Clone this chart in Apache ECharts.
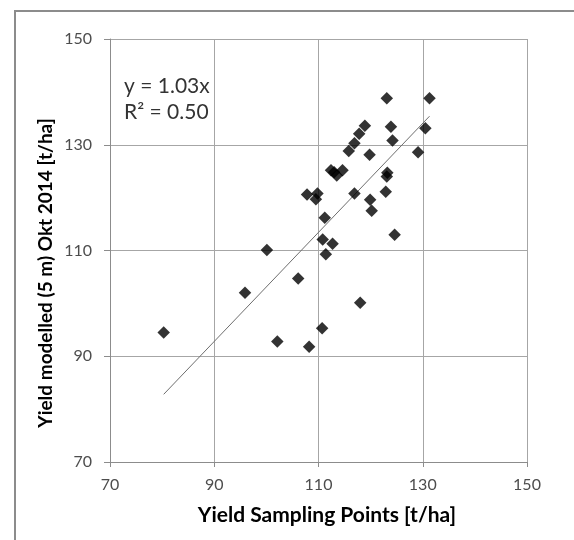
<!DOCTYPE html>
<html>
<head>
<meta charset="utf-8">
<script src="https://cdn.jsdelivr.net/npm/echarts@6/dist/echarts.min.js"></script>
<style>
  html, body { margin: 0; padding: 0; background: #fff; }
  #chart { width: 574px; height: 540px; }
</style>
</head>
<body>
<div id="chart"></div>
<script>
// Yield Sampling Points [t/ha]
const xValues = [80.3, 95.9, 100.1, 102.1, 106.1, 107.8, 108.2, 109.8, 109.5, 110.7,
  110.8, 111.2, 111.4, 112.7, 112.4, 113.0, 113.5, 114.6, 115.8, 116.9,
  116.9, 117.8, 118.9, 118.0, 119.8, 119.9, 120.2, 123.1, 123.9, 124.2,
  123.2, 123.1, 122.9, 124.6, 129.1, 130.5, 131.3];
// Yield modelled (5 m) Okt 2014 [t/ha]
const yValues = [94.5, 102.0, 110.1, 92.8, 104.7, 120.6, 91.8, 120.8, 119.7, 95.3,
  112.1, 116.2, 109.3, 111.3, 125.2, 124.8, 124.2, 125.2, 128.8, 130.3,
  120.8, 132.1, 133.6, 100.1, 128.1, 119.6, 117.5, 138.8, 133.4, 130.8,
  124.7, 124.0, 121.1, 113.0, 128.6, 133.1, 138.8];
// Linear trendline (through origin) endpoints
const trendX = [80.3, 131.3];
const trendY = [82.8, 135.4];
const axisTicks = [70, 90, 110, 130, 150];
const equationText = ['y = 1.03x', 'R² = 0.50'];
const xTitle = 'Yield Sampling Points [t/ha]';
const yTitle = 'Yield modelled (5 m) Okt 2014 [t/ha]';

const points = xValues.map((x, i) => [x, yValues[i]]);
const trend = trendX.map((x, i) => [x, trendY[i]]);

const FONT = 'Lato';
const chart = echarts.init(document.getElementById('chart'), null, { renderer: 'canvas' });
chart.setOption({
  animation: false,
  backgroundColor: '#ffffff',
  grid: { left: 110, right: 47, top: 39, bottom: 78, show: false },
  xAxis: {
    type: 'value',
    min: axisTicks[0], max: axisTicks[axisTicks.length - 1], interval: 20,
    name: xTitle,
    nameLocation: 'middle',
    nameGap: 43,
    nameTextStyle: { fontFamily: FONT, fontSize: 21, fontWeight: 'bold', color: '#000000', padding: [0, 0, 0, 17] },
    axisLine: { show: true, lineStyle: { color: '#8c8c8c', width: 1 } },
    axisTick: { show: true, inside: false, length: 5, lineStyle: { color: '#8c8c8c' } },
    axisLabel: { fontFamily: FONT, fontSize: 16, color: '#4d4d4d', margin: 15 },
    splitLine: { show: true, lineStyle: { color: '#a6a6a6', width: 1 } }
  },
  yAxis: {
    type: 'value',
    min: axisTicks[0], max: axisTicks[axisTicks.length - 1], interval: 20,
    axisLine: { show: true, lineStyle: { color: '#8c8c8c', width: 1 } },
    axisTick: { show: true, inside: false, length: 6, lineStyle: { color: '#8c8c8c' } },
    axisLabel: { fontFamily: FONT, fontSize: 16, color: '#4d4d4d', margin: 18 },
    splitLine: { show: true, lineStyle: { color: '#a6a6a6', width: 1 } }
  },
  series: [
    {
      type: 'line',
      data: trend,
      symbol: 'none',
      silent: true,
      lineStyle: { color: '#6e6e6e', width: 1 },
      z: 2
    },
    {
      type: 'scatter',
      data: points,
      symbol: 'diamond',
      symbolSize: 12.5,
      itemStyle: { color: '#000000' },
      z: 3
    }
  ],
  graphic: [
    {
      type: 'rect',
      shape: { x: 15, y: 11, width: 700, height: 700 },
      style: { fill: 'none', stroke: '#8c8c8c', lineWidth: 2 },
      silent: true,
      z: 100
    },
    {
      type: 'text',
      x: 46,
      y: 273,
      rotation: Math.PI / 2,
      style: {
        text: yTitle,
        fontFamily: FONT,
        fontSize: 19,
        fontWeight: 'bold',
        fill: '#000000',
        align: 'center',
        verticalAlign: 'middle'
      },
      z: 100
    },
    {
      type: 'text',
      left: 124,
      top: 73,
      style: {
        text: equationText.join('\n'),
        fontFamily: FONT,
        fontSize: 21,
        lineHeight: 26,
        fill: '#333333'
      },
      z: 100
    }
  ]
});
</script>
</body>
</html>
